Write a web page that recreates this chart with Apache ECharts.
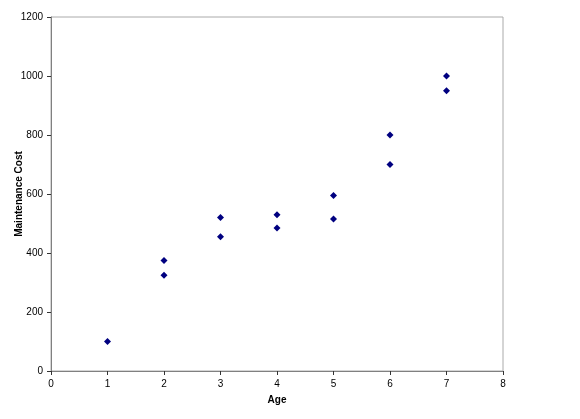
<!DOCTYPE html>
<html><head><meta charset="utf-8">
<script src="https://cdn.jsdelivr.net/npm/echarts@6/dist/echarts.min.js"></script>
<style>html,body{margin:0;padding:0;background:#fff}#c{width:580px;height:419px}</style>
</head><body><div id="c"></div>
<script>
const ages = [1, 2, 2, 3, 3, 4, 4, 5, 5, 6, 6, 7, 7];
const costs = [100, 375, 325, 520, 455, 530, 485, 595, 515, 800, 700, 1000, 950];
const xTicks = [0, 1, 2, 3, 4, 5, 6, 7, 8];
const yTicks = [0, 200, 400, 600, 800, 1000, 1200];
const chart = echarts.init(document.getElementById('c'));
chart.setOption({
  animation: false,
  backgroundColor: '#fff',
  grid: {left: 51, right: 77, top: 17, bottom: 48, show: true, borderColor: '#aaa', borderWidth: 1,
         containLabel: false, outerBoundsMode: 'none'},
  xAxis: {
    type: 'value', min: xTicks[0], max: xTicks[xTicks.length-1], interval: 1,
    name: 'Age', nameLocation: 'middle', nameGap: 24, nameMoveOverlap: false,
    nameTextStyle: {fontFamily: 'Arial, Liberation Sans', fontWeight: 'bold', fontSize: 10, color: '#000'},
    axisLine: {onZero: false, lineStyle: {color: '#808080', width: 1}},
    axisTick: {show: true, length: 4, lineStyle: {color: '#333'}},
    axisLabel: {fontFamily: 'Arial, Liberation Sans', fontSize: 10, color: '#000', margin: 8, formatter: v => String(v)},
    splitLine: {show: false}
  },
  yAxis: {
    type: 'value', min: yTicks[0], max: yTicks[yTicks.length-1], interval: 200,
    name: 'Maintenance Cost', nameLocation: 'middle', nameGap: 27, nameMoveOverlap: false,
    nameTextStyle: {fontFamily: 'Arial, Liberation Sans', fontWeight: 'bold', fontSize: 10, color: '#000'},
    axisLine: {show: true, onZero: false, lineStyle: {color: '#808080', width: 1}},
    axisTick: {show: true, length: 4, lineStyle: {color: '#333'}},
    axisLabel: {fontFamily: 'Arial, Liberation Sans', fontSize: 10, color: '#000', margin: 8, formatter: v => String(v)},
    splitLine: {show: false}
  },
  series: [{
    type: 'scatter',
    data: ages.map((a, i) => [a, costs[i]]),
    symbol: 'diamond', symbolSize: 7,
    itemStyle: {color: '#000080', opacity: 1}
  }]
});
</script></body></html>
